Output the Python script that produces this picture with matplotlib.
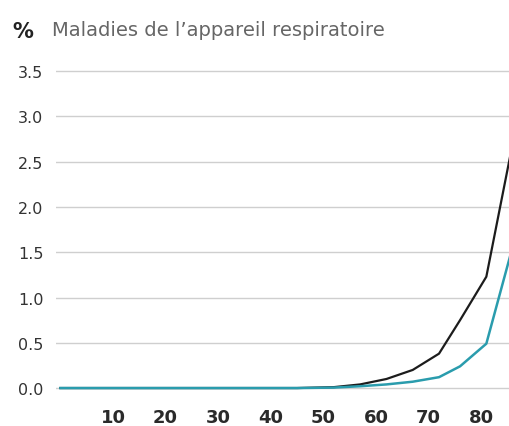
import matplotlib
matplotlib.use("Agg")
import matplotlib.pyplot as plt

# Data (age positions and % values)
ages = [0, 45, 52, 57, 62, 67, 72, 76, 81, 86]
black_vals = [0.0, 0.0, 0.01, 0.04, 0.10, 0.20, 0.38, 0.75, 1.23, 2.70]
cyan_vals = [0.0, 0.0, 0.005, 0.02, 0.04, 0.07, 0.12, 0.24, 0.49, 1.56]
x_ticks = [10, 20, 30, 40, 50, 60, 70, 80]
y_ticks = [0.0, 0.5, 1.0, 1.5, 2.0, 2.5, 3.0, 3.5]
title = "Maladies de l\u2019appareil respiratoire"

fig = plt.figure(figsize=(5.10, 4.27), dpi=100)
ax = fig.add_axes([0.1098, 0.0749, 0.8902, 0.7729])

ax.set_xlim(-0.84, 85.5)
ax.set_ylim(-0.066, 3.58)

for y in y_ticks:
    ax.axhline(y, color="#cfcfcf", lw=1.0, zorder=1)

ax.plot(ages, black_vals, color="#1c1c1c", lw=1.6, zorder=3)
ax.plot(ages, cyan_vals, color="#2a9cad", lw=1.8, zorder=4)

for s in ax.spines.values():
    s.set_visible(False)

ax.set_yticks(y_ticks)
ax.set_yticklabels([f"{v:.1f}" for v in y_ticks], fontsize=11.5,
                   color="#333333", family="DejaVu Sans")
ax.set_xticks(x_ticks)
ax.set_xticklabels([str(v) for v in x_ticks], fontsize=13, fontweight="bold",
                   color="#2a2a2a", family="DejaVu Sans")
ax.tick_params(axis="y", length=0, pad=9)
ax.tick_params(axis="x", length=0, pad=10)

fig.text(12 / 510, 1 - 32 / 427, "%", fontsize=15, fontweight="bold",
         color="#222222", va="center", ha="left", family="DejaVu Sans")
fig.text(52 / 510, 1 - 31 / 427, title, fontsize=14, color="#666666",
         va="center", ha="left", family="DejaVu Sans")

fig.savefig("out.png", dpi=100)
